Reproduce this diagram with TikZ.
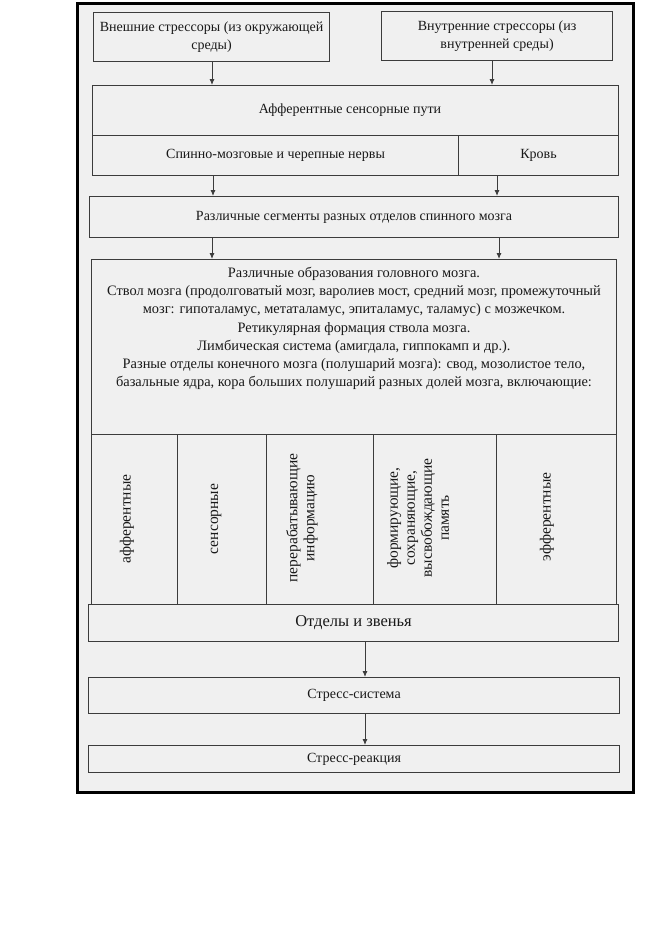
\documentclass[tikz,border=0pt]{standalone}
\usepackage{fontspec}
\setmainfont{Liberation Serif}
\usetikzlibrary{arrows.meta}
\definecolor{bg}{RGB}{240,240,240}
\definecolor{ln}{RGB}{60,60,60}
\definecolor{tx}{RGB}{25,25,25}
\begin{document}
\begin{tikzpicture}[x=1pt,y=-1pt,
  box/.style={draw=ln, line width=1.1pt, inner sep=0pt, anchor=north west, text=tx, align=center, font=\fontsize{14}{18}\selectfont},
  vtext/.style={rotate=90, inner sep=0pt, text=tx, align=center, font=\fontsize{15.5}{17}\selectfont},
  btext/.style={inner sep=0pt, text=tx, align=center, font=\fontsize{14.4}{18.2}\selectfont},
  arr/.style={draw=ln, line width=0.9pt, -{Latex[length=6pt,width=5pt]}}]
\useasboundingbox (0,0) rectangle (647,940);
\fill[white] (0,0) rectangle (647,940);
\node[draw=black, line width=2.5pt, fill=bg, minimum width=556pt, minimum height=789pt, anchor=north west, inner sep=0pt] (frame) at (76,2) {};
% top boxes
\node[box, minimum width=236pt, minimum height=49pt] (b1) at (93,12) {Внешние стрессоры (из окружающей\\среды)};
\node[box, minimum width=231pt, minimum height=49pt] (b2) at (381,11) {Внутренние стрессоры (из\\внутренней среды)};
% afferent
\node[box, minimum width=526pt, minimum height=50pt] (afft) at (92,85) {};
\node[btext, font=\fontsize{14}{18}\selectfont] (afftext) at (350,110) {Афферентные сенсорные пути};
\node[box, minimum width=366pt, minimum height=40pt] (spin) at (92,135) {Спинно-мозговые и черепные нервы};
\node[box, minimum width=160pt, minimum height=40pt] (krov) at (458,135) {Кровь};
% segments
\node[box, minimum width=529pt, minimum height=41pt] (seg) at (89,196) {Различные сегменты разных отделов спинного мозга};
% brain
\node[box, minimum width=525pt, minimum height=175pt] (brain) at (91,259) {};
\node[btext, anchor=north] (braintext) at (354,267) {Различные образования головного мозга.\\
Ствол мозга (продолговатый мозг, варолиев мост, средний мозг, промежуточный\\
мозг: гипоталамус, метаталамус, эпиталамус, таламус) с мозжечком.\\
Ретикулярная формация ствола мозга.\\
Лимбическая система (амигдала, гиппокамп и др.).\\
Разные отделы конечного мозга (полушарий мозга): свод, мозолистое тело,\\
базальные ядра, кора больших полушарий разных долей мозга, включающие:};
% columns
\node[box, minimum width=86pt, minimum height=170pt] (c1) at (91,434) {};
\node[box, minimum width=89pt, minimum height=170pt] (c2) at (177,434) {};
\node[box, minimum width=107pt, minimum height=170pt] (c3) at (266,434) {};
\node[box, minimum width=123pt, minimum height=170pt] (c4) at (373,434) {};
\node[box, minimum width=120pt, minimum height=170pt] (c5) at (496,434) {};
\node[vtext] (t1) at (127,519) {афферентные};
\node[vtext] (t2) at (216,519) {сенсорные};
\node[vtext] (t3) at (302,518) {перерабатывающие\\информацию};
\node[vtext] (t4) at (418,518) {формирующие,\\сохраняющие,\\высвобождающие\\память};
\node[vtext] (t5) at (547,517) {эфферентные};
% bottom
\node[box, minimum width=530pt, minimum height=37pt, font=\fontsize{16.5}{20}\selectfont] (otd) at (88,604) {Отделы и звенья};
\node[box, minimum width=531pt, minimum height=36pt] (sys) at (88,677) {Стресс-система};
\node[box, minimum width=531pt, minimum height=27pt] (reak) at (88,745) {Стресс-реакция};
% arrow columns
\coordinate (ax1) at (212,0);
\coordinate (ax2) at (492,0);
\coordinate (ax3) at (213,0);
\coordinate (ax4) at (497,0);
\coordinate (ax5) at (212,0);
\coordinate (ax6) at (499,0);
\coordinate (ax7) at (365,0);
\draw[arr] (b1.south -| ax1) -- (afft.north -| ax1);
\draw[arr] (b2.south -| ax2) -- (afft.north -| ax2);
\draw[arr] (spin.south -| ax3) -- (seg.north -| ax3);
\draw[arr] (krov.south -| ax4) -- (seg.north -| ax4);
\draw[arr] (seg.south -| ax5) -- (brain.north -| ax5);
\draw[arr] (seg.south -| ax6) -- (brain.north -| ax6);
\draw[arr] (otd.south -| ax7) -- (sys.north -| ax7);
\draw[arr] (sys.south -| ax7) -- (reak.north -| ax7);
\end{tikzpicture}
\end{document}
